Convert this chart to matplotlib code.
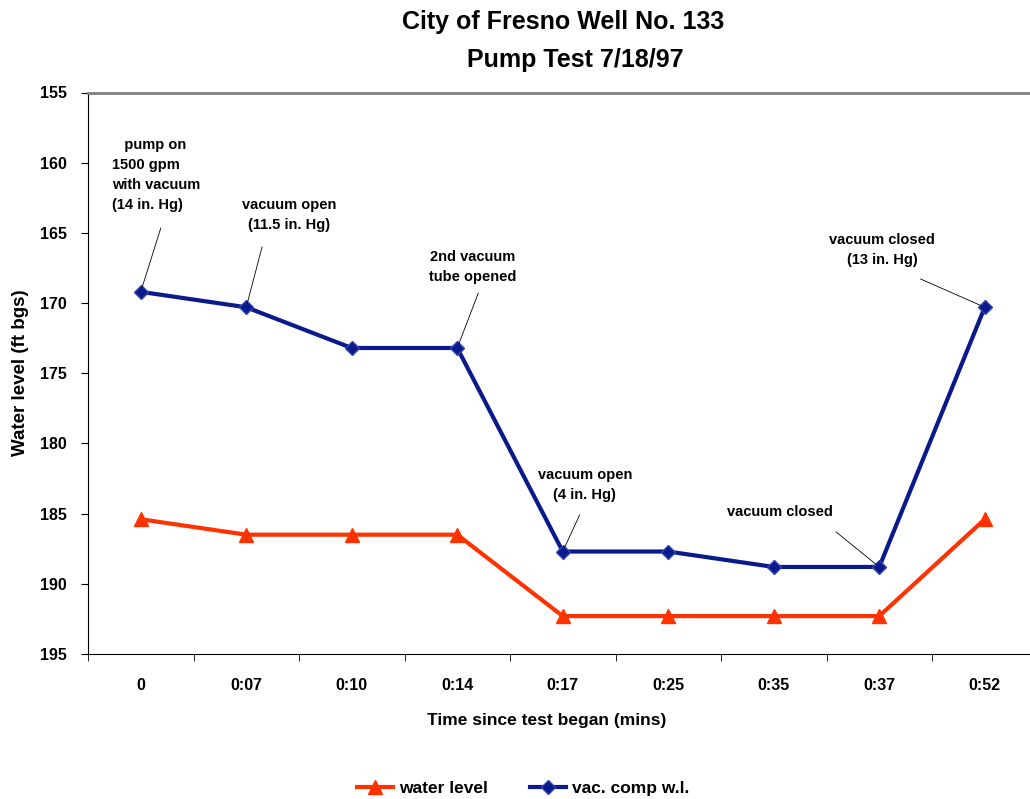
import matplotlib
matplotlib.use('Agg')
import matplotlib.pyplot as plt
import numpy as np

plt.rcParams['font.family'] = ['Liberation Sans', 'DejaVu Sans']
plt.rcParams['font.weight'] = 'bold'

times = ['0', '0:07', '0:10', '0:14', '0:17', '0:25', '0:35', '0:37', '0:52']
water_level = [185.4, 186.5, 186.5, 186.5, 192.3, 192.3, 192.3, 192.3, 185.4]
vac_comp = [169.2, 170.3, 173.2, 173.2, 187.7, 187.7, 188.8, 188.8, 170.3]

# text, index of point, text position, line start, alignment
notes = [
    ("   pump on\n1500 gpm\nwith vacuum\n(14 in. Hg)", 0, (-0.27, 160.9), (0.19, 164.65), 'left'),
    ("vacuum open\n(11.5 in. Hg)", 1, (1.41, 163.7), (1.15, 166.0), 'center'),
    ("2nd vacuum\ntube opened", 3, (3.15, 167.4), (3.20, 169.28), 'center'),
    ("vacuum open\n(4 in. Hg)", 4, (4.21, 182.95), (4.16, 185.09), 'center'),
    ("vacuum closed", 7, (6.06, 184.88), (6.59, 186.3), 'center'),
    ("vacuum closed\n(13 in. Hg)", 8, (7.03, 166.2), (7.39, 168.28), 'center'),
]

x = np.arange(len(times))

fig = plt.figure(figsize=(10.3, 7.99), dpi=100)
ax = fig.add_axes([88/1030, 1-654/799, (1037.5-88)/1030, (654-92.5)/799])

red = '#FF3300'
navy = '#0A1A8C'
ax.plot(x, water_level, color=red, lw=3, marker='^', ms=10,
        markeredgecolor=red, label='water level')
ax.plot(x, vac_comp, color=navy, lw=3, marker='D', ms=7,
        markeredgecolor='#3344AA', label='vac. comp w.l.')

for txt, i, tpos, lstart, ha in notes:
    ax.text(tpos[0], tpos[1], txt, ha=ha, va='center', fontsize=10.5,
            linespacing=1.55, multialignment='left' if ha == 'left' else 'center')
    ax.annotate('', xy=(x[i], vac_comp[i]), xytext=lstart,
                arrowprops=dict(arrowstyle='-', color='black', lw=0.6,
                                shrinkA=0, shrinkB=3))

ax.set_xlim(-0.5, len(times) - 0.5)
ax.set_ylim(195, 155)
ax.set_yticks(np.arange(155, 196, 5))
ax.set_xticks(x)
ax.set_xticklabels(times, fontsize=11.5, fontweight='bold')
ax.tick_params(axis='x', length=0, pad=17)
ax.set_xticks(np.arange(-0.5, len(times), 1), minor=True)
ax.tick_params(axis='x', which='minor', length=5, direction='out')
ax.tick_params(axis='y', length=5, direction='out', labelsize=11.5, pad=10)
for lab in ax.get_yticklabels():
    lab.set_fontweight('bold')

ax.spines['right'].set_visible(False)
ax.spines['top'].set_color('#808080')
ax.spines['top'].set_linewidth(2)

fig.text(21/1030, 1-373/799, 'Water level (ft bgs)', rotation=90, ha='center',
         va='center', fontsize=13.5, fontweight='bold')
fig.text(547/1030, 1-720/799, 'Time since test began (mins)', ha='center',
         va='center', fontsize=12.5, fontweight='bold')
fig.text(563/1030, 1-22/799, 'City of Fresno Well No. 133', ha='center',
         va='center', fontsize=18, fontweight='bold')
fig.text(575/1030, 1-60/799, 'Pump Test 7/18/97', ha='center',
         va='center', fontsize=18, fontweight='bold')

fig.legend(loc='center', bbox_to_anchor=(523/1030, 1-788/799), ncol=2,
           frameon=False, handlelength=2.1, handletextpad=0.35,
           columnspacing=2.4, prop={'weight': 'bold', 'size': 12.5})

fig.savefig('out.png', dpi=100)
